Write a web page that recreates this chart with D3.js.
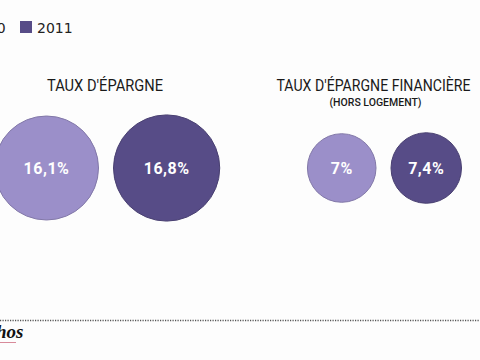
<!DOCTYPE html>
<html><head><meta charset="utf-8">
<script src="https://cdn.jsdelivr.net/npm/d3@7"></script>
<style>body{margin:0;background:#fdfdfd;}svg{display:block;}</style>
</head><body>
<svg id="c" width="480" height="360"></svg>
<script>
const categories = ["TAUX D'ÉPARGNE", "TAUX D'ÉPARGNE FINANCIÈRE"];
const subtitles = ["", "(HORS LOGEMENT)"];
const years = ["2010", "2011"];
const values2010 = [16.1, 7];
const values2011 = [16.8, 7.4];
const colors = ["#9b8fc9", "#574c87"];

const svg = d3.select("#c");
const W = 480, H = 360;
svg.append("rect").attr("width", W).attr("height", H).attr("fill", "#fdfdfd");

const loc = d3.formatLocale({decimal: ",", thousands: " ", grouping: [3], currency: ["", "€"]});
const fmt = v => loc.format(".1~f")(v) + "%";

const xGroup = d3.scalePoint().domain(categories).range([106, 383.5]);
const r = d3.scaleSqrt().domain([0, 16.1]).range([0, 52]);
const cy = 168, gap = 15;

const data = [];
categories.forEach((c, i) => {
  const r0 = r(values2010[i]), r1 = r(values2011[i]);
  const gc = xGroup(c);
  data.push({cat: c, year: years[0], v: values2010[i], x: gc - gap / 2 - r0, rad: r0, col: colors[0]});
  data.push({cat: c, year: years[1], v: values2011[i], x: gc + gap / 2 + r1, rad: r1, col: colors[1]});
});

svg.selectAll("circle.b").data(data).join("circle").attr("class", "b")
  .attr("cx", d => d.x).attr("cy", cy).attr("r", d => d.rad)
  .attr("fill", d => d.col).attr("stroke", d => d3.color(d.col).darker(0.5)).attr("stroke-width", 1);

svg.selectAll("text.v").data(data).join("text").attr("class", "v")
  .attr("x", d => d.x).attr("y", cy + 6)
  .attr("text-anchor", "middle").attr("fill", "#fff")
  .attr("font-family", "Roboto, 'Open Sans', sans-serif").attr("font-weight", "bold")
  .attr("font-size", 16).attr("letter-spacing", 0.5)
  .text(d => fmt(d.v));

const titleDx = [-1, -10];
const titleW = [116, 194];
svg.selectAll("text.t").data(categories).join("text").attr("class", "t")
  .attr("x", (d, i) => xGroup(d) + titleDx[i]).attr("y", 91)
  .attr("text-anchor", "middle").attr("fill", "#1a1a1a")
  .attr("font-family", "Roboto, sans-serif").attr("font-weight", 400)
  .attr("font-size", 16.5)
  .attr("textLength", (d, i) => titleW[i]).attr("lengthAdjust", "spacingAndGlyphs")
  .text(d => d);

svg.selectAll("text.s").data(subtitles).join("text").attr("class", "s")
  .attr("x", (d, i) => xGroup(categories[i]) + titleDx[i] + 2).attr("y", 106)
  .attr("text-anchor", "middle").attr("fill", "#1a1a1a")
  .attr("font-family", "Roboto, sans-serif").attr("font-weight", 500)
  .attr("font-size", 10.5)
  .text(d => d);

// legend (partially cropped at left)
const legX = d3.scalePoint().domain(years).range([-47, 20]);
const leg = svg.selectAll("g.l").data(years).join("g").attr("class", "l")
  .attr("transform", d => `translate(${legX(d)},21)`);
leg.append("rect").attr("width", 12).attr("height", 12)
  .attr("fill", (d, i) => colors[i]);
leg.append("text").attr("x", 17).attr("y", 11.5)
  .attr("font-family", "'DejaVu Sans', sans-serif").attr("font-size", 14)
  .attr("fill", "#222").text(d => d);

// footer
svg.append("line").attr("x1", 0).attr("x2", W).attr("y1", 320.5).attr("y2", 320.5)
  .attr("stroke", "#555").attr("stroke-width", 1.5).attr("stroke-dasharray", "1.2,1.3");
svg.append("text").attr("x", -4).attr("y", 338)
  .attr("font-family", "'Liberation Serif', serif").attr("font-style", "italic")
  .attr("font-weight", "bold").attr("font-size", 19).attr("fill", "#111").text("hos");
svg.append("line").attr("x1", 0).attr("x2", 16).attr("y1", 342.5).attr("y2", 342.5)
  .attr("stroke", "#d88a9a").attr("stroke-width", 1);
</script>
</body></html>
